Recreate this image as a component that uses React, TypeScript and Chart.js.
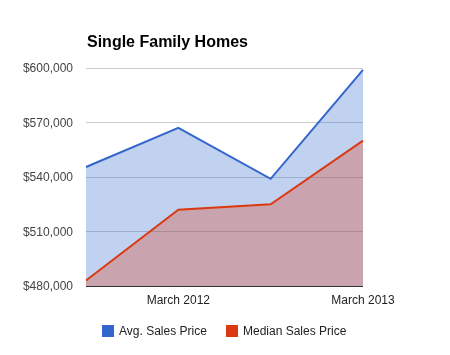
import React, { useEffect, useRef } from "react";
import { Chart, registerables } from "chart.js";

Chart.register(...registerables);

const categories = ["", "March 2012", "", "March 2013"];
const avgSalesPrice = [545500, 567000, 539000, 599000];
const medianSalesPrice = [483000, 522000, 525000, 560000];
const yTicks = [480000, 510000, 540000, 570000, 600000];
const titleText = "Single Family Homes";

const FONT = "'Liberation Sans', Arial, sans-serif";

const titlePlugin = {
  id: "leftTitle",
  afterDraw(chart: any) {
    const { ctx, chartArea } = chart;
    ctx.save();
    ctx.font = `bold 16px ${FONT}`;
    ctx.fillStyle = "#000";
    ctx.textAlign = "left";
    ctx.textBaseline = "alphabetic";
    ctx.fillText(titleText, chartArea.left + 1, 47);
    ctx.restore();
  },
};

const legendPlugin = {
  id: "bottomLegend",
  afterDraw(chart: any) {
    const { ctx, chartArea } = chart;
    const datasets = chart.data.datasets;
    ctx.save();
    ctx.font = `12px ${FONT}`;
    const box = 12;
    const gapText = 5;
    const gapItem = 19;
    const widths = datasets.map((d: any) => box + gapText + ctx.measureText(d.label).width);
    const total = widths.reduce((a: number, b: number) => a + b, 0) + gapItem * (datasets.length - 1);
    let x = (chartArea.left + chartArea.right) / 2 - total / 2;
    const cy = 331;
    datasets.forEach((d: any, i: number) => {
      ctx.fillStyle = d.borderColor;
      ctx.fillRect(Math.round(x), cy - box / 2, box, box);
      ctx.fillStyle = "#222";
      ctx.textAlign = "left";
      ctx.textBaseline = "middle";
      ctx.fillText(d.label, Math.round(x) + box + gapText, cy + 1);
      x += widths[i] + gapItem;
    });
    ctx.restore();
  },
};

export default function App() {
  const ref = useRef<HTMLCanvasElement>(null);
  useEffect(() => {
    document.body.style.margin = "0";
    const chart = new Chart(ref.current!, {
      type: "line",
      data: {
        labels: categories,
        datasets: [
          {
            label: "Avg. Sales Price",
            data: avgSalesPrice,
            borderColor: "#3366cc",
            backgroundColor: "rgba(51,102,204,0.3)",
            borderWidth: 2,
            pointRadius: 0,
            fill: "start",
            tension: 0,
            order: 1,
          },
          {
            label: "Median Sales Price",
            data: medianSalesPrice,
            borderColor: "#dc3912",
            backgroundColor: "rgba(220,57,18,0.3)",
            borderWidth: 2,
            pointRadius: 0,
            fill: "start",
            tension: 0,
            order: 0,
          },
        ],
      },
      plugins: [titlePlugin, legendPlugin],
      options: {
        animation: false,
        responsive: false,
        layout: { padding: { left: 0, right: 87, top: 68, bottom: 50 } },
        plugins: {
          title: { display: false },
          tooltip: { enabled: false },
          legend: { display: false },
        },
        scales: {
          x: {
            offset: false,
            grid: { display: false, drawTicks: false },
            border: { display: false },
            ticks: {
              autoSkip: false,
              maxRotation: 0,
              padding: 7,
              color: "#222",
              font: { family: FONT, size: 12 },
            },
            afterFit: (s: any) => {
              s.height = 19;
            },
          },
          y: {
            min: yTicks[0],
            max: yTicks[yTicks.length - 1],
            afterBuildTicks: (s: any) => {
              s.ticks = yTicks.map((v) => ({ value: v }));
            },
            grid: {
              drawTicks: false,
              color: (c: any) => (c.tick && c.tick.value === yTicks[0] ? "#333" : "#ccc"),
              lineWidth: 1,
            },
            border: { display: false },
            ticks: {
              padding: 13,
              labelOffset: 1,
              color: "#444",
              font: { family: FONT, size: 12 },
              callback: (v: any) => "$" + Number(v).toLocaleString("en-US"),
            },
            afterFit: (s: any) => {
              s.width = 86;
            },
          },
        },
      },
    });
    return () => chart.destroy();
  }, []);
  return <canvas ref={ref} width={450} height={355} style={{ display: "block" }} />;
}
